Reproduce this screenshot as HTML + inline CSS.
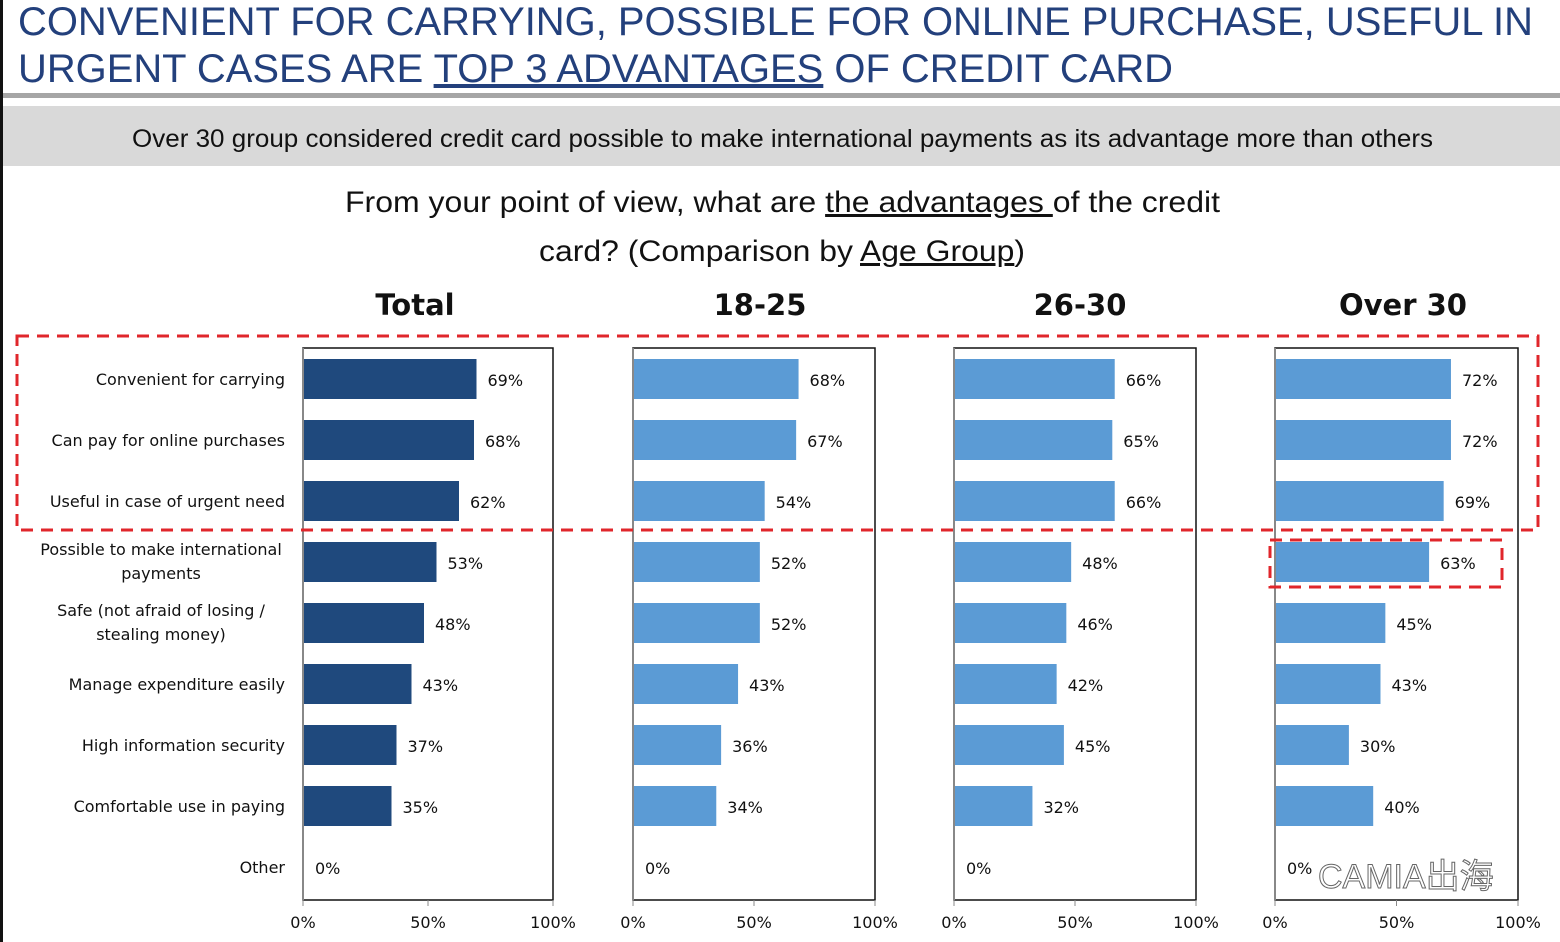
<!DOCTYPE html><html><head><style>body{margin:0;background:#fff}svg{display:block}</style></head><body>
<svg width="1560" height="942" xmlns="http://www.w3.org/2000/svg" font-family="Liberation Sans, sans-serif">
<rect x="0" y="0" width="3" height="942" fill="#111"/>
<text x="18" y="35" font-size="40" fill="#23407c" textLength="1515" lengthAdjust="spacingAndGlyphs">CONVENIENT FOR CARRYING, POSSIBLE FOR ONLINE PURCHASE, USEFUL IN</text>
<text x="18" y="82" font-size="40" fill="#23407c" textLength="1155" lengthAdjust="spacingAndGlyphs">URGENT CASES ARE <tspan text-decoration="underline">TOP 3 ADVANTAGES</tspan> OF CREDIT CARD</text>
<rect x="3" y="93" width="1557" height="5" fill="#a6a6a6"/>
<rect x="3" y="106" width="1557" height="60" fill="#d9d9d9"/>
<text x="132" y="147" font-size="25" fill="#111" textLength="1301" lengthAdjust="spacingAndGlyphs">Over 30 group considered credit card possible to make international payments as its advantage more than others</text>
<text x="345" y="212" font-size="30" fill="#111" textLength="875" lengthAdjust="spacingAndGlyphs">From your point of view, what are <tspan text-decoration="underline">the advantages </tspan>of the credit</text>
<text x="539" y="261" font-size="30" fill="#111" textLength="486" lengthAdjust="spacingAndGlyphs">card? (Comparison by <tspan text-decoration="underline">Age Group</tspan>)</text>
<g font-family="DejaVu Sans, sans-serif" font-weight="bold" font-size="29" text-anchor="middle" fill="#111">
<text x="415" y="315">Total</text><text x="760" y="315">18-25</text><text x="1080" y="315">26-30</text><text x="1403" y="315">Over 30</text></g>
<g id="charts"></g>
<rect x="17" y="336" width="1521" height="194" fill="none" stroke="#e0262b" stroke-width="3" stroke-dasharray="12,8"/>
<rect x="1270" y="540" width="232" height="47" fill="none" stroke="#e0262b" stroke-width="3" stroke-dasharray="12,8"/>
<text x="1318" y="888" font-size="34" fill="#fff" stroke="#666" stroke-width="1" font-family="Liberation Sans, Noto Sans CJK SC, sans-serif">CAMIA出海</text>
</svg>
<script>
const labels=[["Convenient for carrying"],["Can pay for online purchases"],["Useful in case of urgent need"],["Possible to make international","payments"],["Safe (not afraid of losing /","stealing money)"],["Manage expenditure easily"],["High information security"],["Comfortable use in paying"],["Other"]];
const panels=[[303,250,"#1f497d",[69,68,62,53,48,43,37,35,0]],[633,242,"#5b9bd5",[68,67,54,52,52,43,36,34,0]],[954,242,"#5b9bd5",[66,65,66,48,46,42,45,32,0]],[1275,243,"#5b9bd5",[72,72,69,63,45,43,30,40,0]]];
let s="";const ns='font-family="DejaVu Sans, sans-serif" font-size="16" fill="#111"';
labels.forEach((l,i)=>{const c=379+61*i;if(l.length==1)s+=`<text x="285" y="${c+6}" text-anchor="end" ${ns}>${l[0]}</text>`;else{s+=`<text x="161" y="${c-7}" text-anchor="middle" ${ns}>${l[0]}</text><text x="161" y="${c+17}" text-anchor="middle" ${ns}>${l[1]}</text>`;}});
panels.forEach(([x,w,col,v])=>{
s+=`<rect x="${x}" y="348" width="${w}" height="552" fill="none" stroke="#111" stroke-width="1.5"/><line x1="${x}" y1="348" x2="${x}" y2="900" stroke="#888" stroke-width="2"/>`;
v.forEach((p,i)=>{const c=379+61*i;const bw=w*p/100;if(p>0)s+=`<rect x="${x+1}" y="${c-20}" width="${bw}" height="40" fill="${col}"/>`;s+=`<text x="${x+bw+12}" y="${c+7}" ${ns}>${p}%</text>`;});
[0,50,100].forEach(t=>{const tx=x+w*t/100;s+=`<line x1="${tx}" y1="900" x2="${tx}" y2="906" stroke="#888"/><text x="${tx}" y="928" text-anchor="middle" ${ns}>${t}%</text>`;});
});
document.getElementById("charts").innerHTML=s;
</script>
</body></html>
